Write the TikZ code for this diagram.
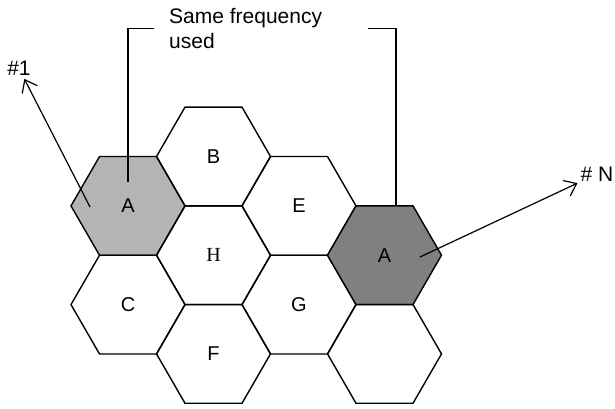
\documentclass[tikz,border=0pt]{standalone}
\usepackage{fontspec}
\setmainfont{Liberation Sans}
\newfontfamily\romanH{Liberation Serif}
\usetikzlibrary{shapes.geometric,arrows.meta,positioning}

\definecolor{cellLight}{RGB}{180,180,180}
\definecolor{cellDark}{RGB}{128,128,128}

\tikzset{
  cell/.style={draw, regular polygon, regular polygon sides=6,
    minimum size=114pt, inner sep=0pt, outer sep=0pt, line width=1.4pt,
    font=\fontsize{20}{24}\selectfont},
  reuse/.style={cell, fill=cellLight},
  reusedark/.style={cell, fill=cellDark},
  tag/.style={inner sep=3pt, font=\fontsize{21}{25}\selectfont},
  ray/.style={line width=1.2pt, -{Straight Barb[length=11pt,width=17pt]}},
  lead/.style={line width=1.4pt}
}

\begin{document}
\begin{tikzpicture}[x=1pt,y=-1pt]
  \useasboundingbox (0,0) rectangle (615,409);
  % cells
  \node[reuse] (A1) at (128,205.9) {A};
  \node[cell] (C) at (128,304.6) {C};
  \node[cell] (B) at (213.5,156.5) {B};
  \node[cell] (H) at (213.5,255.2) {\romanH H};
  \node[cell] (F) at (213.5,353.9) {F};
  \node[cell] (E) at (299,205.9) {E};
  \node[cell] (G) at (299,304.6) {G};
  \node[reusedark] (AN) at (384.5,255.2) {A};
  \node[cell] (X) at (384.5,353.9) {};
  % same frequency bracket
  \node[tag, anchor=north west, align=left, inner sep=0pt] (same) at (169,8) {Same frequency\\used};
  \coordinate[left=15pt of same] (L1);
  \coordinate[right=46pt of same] (L2);
  \draw[lead, shorten >=24pt] (L1) -| (A1.center);
  \draw[lead] (L2) -| ([xshift=11.5pt]AN.north);
  % reuse distance arrows
  \node[tag] (n1) at (19,68.5) {\#1};
  \node[tag] (nN) at (597,174) {\# N};
  \coordinate (s1) at (90,207);
  \coordinate (sN) at (420,257);
  \draw[ray] (s1) -- (n1);
  \draw[ray] (sN) -- (nN);
\end{tikzpicture}
\end{document}
